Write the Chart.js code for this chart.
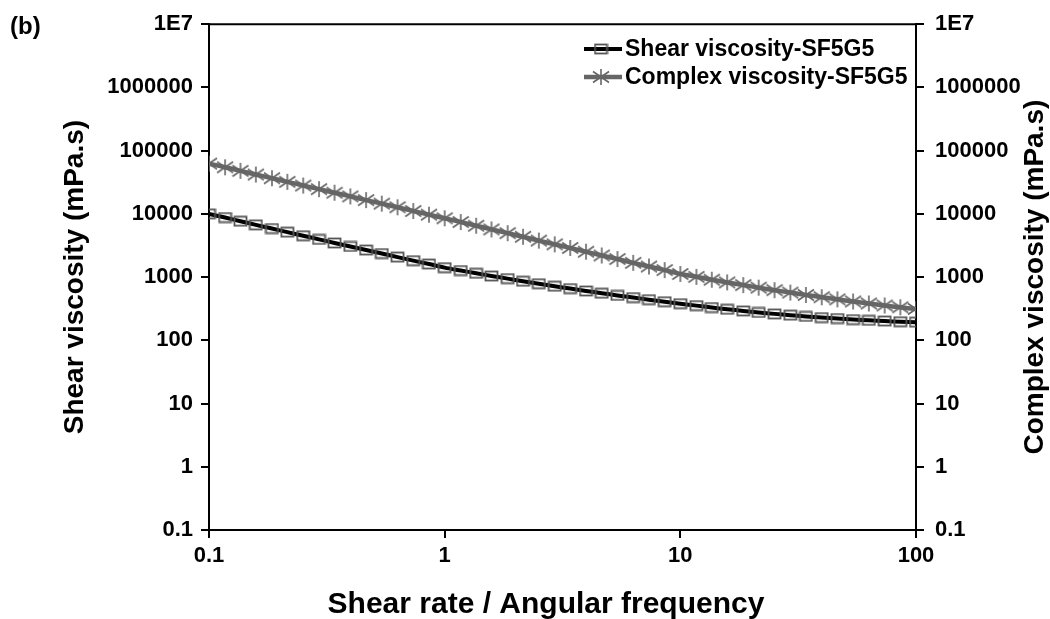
<!DOCTYPE html>
<html>
<head>
<meta charset="utf-8">
<script src="https://cdn.jsdelivr.net/npm/chart.js@4.4.1/dist/chart.umd.min.js"></script>
<style>
  html, body { margin: 0; padding: 0; background: #fff; }
  #wrap { position: relative; width: 1050px; height: 619px; }
</style>
</head>
<body>
<div id="wrap"><canvas id="c" width="1050" height="619"></canvas></div>
<script>
// ---------- data ----------
const shearRate = [0.1, 0.117, 0.136, 0.158, 0.185, 0.215, 0.251, 0.293, 0.341, 0.398, 0.464, 0.541, 0.631, 0.736, 0.858,
  1, 1.17, 1.36, 1.58, 1.85, 2.15, 2.51, 2.93, 3.41, 3.98, 4.64, 5.41, 6.31, 7.36, 8.58,
  10, 11.7, 13.6, 15.8, 18.5, 21.5, 25.1, 29.3, 34.1, 39.8, 46.4, 54.1, 63.1, 73.6, 85.8, 100];
const shearViscosity = [10000, 8750, 7660, 6700, 5860, 5140, 4510, 3950, 3470, 3050, 2680, 2360, 2070, 1820, 1610,
  1410, 1270, 1150, 1040, 946, 861, 785, 718, 658, 604, 556, 513, 474, 440, 408,
  380, 354, 330, 310, 292, 276, 262, 250, 239, 229, 221, 213, 207, 202, 197, 194];
const complexViscosity = [62400, 54600, 47900, 41900, 36600, 32100, 28100, 24600, 21600, 18900, 16500, 14500, 12700, 11100, 9720,
  8510, 7430, 6500, 5680, 4950, 4340, 3780, 3300, 2890, 2520, 2200, 1930, 1680, 1470, 1290,
  1120, 1010, 910, 824, 748, 681, 621, 569, 522, 481, 445, 412, 383, 356, 333, 313];
const seriesNames = ['Shear viscosity-SF5G5', 'Complex viscosity-SF5G5'];
const xTickValues = [0.1, 1, 10, 100];
const xTickLabels = ['0.1', '1', '10', '100'];
const yTickValues = [0.1, 1, 10, 100, 1000, 10000, 100000, 1000000, 10000000];
const yTickLabels = ['0.1', '1', '10', '100', '1000', '10000', '100000', '1000000', '1E7'];
const xTitle = 'Shear rate / Angular frequency';
const yTitle = 'Shear viscosity (mPa.s)';
const y2Title = 'Complex viscosity (mPa.s)';
const panelLabel = '(b)';

// ---------- styles ----------
const FONT = '"Liberation Sans", Arial, Helvetica, sans-serif';
const GREY = '#666666';

function makeSquare() {
  const c = document.createElement('canvas');
  c.width = 15; c.height = 12;
  const g = c.getContext('2d');
  g.strokeStyle = '#555';
  g.lineWidth = 1.8;
  g.strokeRect(1.5, 1.5, 12, 9);
  return c;
}
function makeStar() {
  const c = document.createElement('canvas');
  c.width = 18; c.height = 18;
  const g = c.getContext('2d');
  g.strokeStyle = GREY;
  g.lineWidth = 1.6;
  g.beginPath();
  g.moveTo(9, 1); g.lineTo(9, 17);
  g.moveTo(1, 3.5); g.lineTo(17, 14.5);
  g.moveTo(1, 14.5); g.lineTo(17, 3.5);
  g.stroke();
  return c;
}
const squareImg = makeSquare();
const starImg = makeStar();

const toPoints = (xs, ys) => xs.map((x, i) => ({ x: x, y: ys[i] }));

const decorPlugin = {
  id: 'decor',
  afterDraw(chart) {
    const ctx = chart.ctx;
    const a = chart.chartArea;
    ctx.save();
    // top frame line
    ctx.strokeStyle = '#000';
    ctx.lineWidth = 2;
    ctx.beginPath();
    ctx.moveTo(a.left - 1, a.top);
    ctx.lineTo(a.right + 1, a.top);
    ctx.stroke();

    ctx.fillStyle = '#000';
    // panel label
    ctx.font = 'bold 24px ' + FONT;
    ctx.textAlign = 'left';
    ctx.textBaseline = 'alphabetic';
    ctx.fillText(panelLabel, 10, 34);

    // x title
    ctx.font = 'bold 30px ' + FONT;
    ctx.textAlign = 'center';
    ctx.fillText(xTitle, 546, 613);

    // y titles (both read bottom-to-top)
    const cy = (a.top + a.bottom) / 2;
    ctx.font = 'bold 28px ' + FONT;
    ctx.save();
    ctx.translate(83, cy);
    ctx.rotate(-Math.PI / 2);
    ctx.fillText(yTitle, 0, 0);
    ctx.restore();
    ctx.save();
    ctx.translate(1043, cy);
    ctx.rotate(-Math.PI / 2);
    ctx.fillText(y2Title, 0, 0);
    ctx.restore();

    // legend
    const ds = chart.data.datasets;
    const ys = [49, 77];
    ctx.font = 'bold 23px ' + FONT;
    ctx.textAlign = 'left';
    ctx.textBaseline = 'middle';
    ds.forEach((d, i) => {
      const y = ys[i];
      ctx.strokeStyle = d.borderColor;
      ctx.lineWidth = d.borderWidth;
      ctx.beginPath();
      ctx.moveTo(584, y);
      ctx.lineTo(622, y);
      ctx.stroke();
      const img = d.pointStyle;
      ctx.drawImage(img, 601 - img.width / 2, y - img.height / 2);
      ctx.fillStyle = '#000';
      ctx.fillText(d.label, 625, y + 1);
    });
    ctx.restore();
  }
};

const axisCommon = {
  type: 'logarithmic',
  grid: { display: true, drawOnChartArea: false, drawTicks: true, tickLength: 8, color: '#000', lineWidth: 2 },
  border: { display: true, color: '#000', width: 2 },
};

new Chart(document.getElementById('c'), {
  type: 'line',
  data: {
    datasets: [
      {
        label: seriesNames[0],
        data: toPoints(shearRate, shearViscosity),
        borderColor: '#000',
        borderWidth: 4,
        pointStyle: squareImg,
        pointRadius: 7,
        tension: 0.3,
        yAxisID: 'y',
        order: 2
      },
      {
        label: seriesNames[1],
        data: toPoints(shearRate, complexViscosity),
        borderColor: GREY,
        borderWidth: 4.5,
        pointStyle: starImg,
        pointRadius: 8,
        tension: 0.3,
        yAxisID: 'y',
        order: 1
      }
    ]
  },
  options: {
    responsive: false,
    animation: false,
    devicePixelRatio: 1,
    layout: { padding: { top: 22, left: 0, right: 0, bottom: 0 } },
    plugins: { legend: { display: false }, tooltip: { enabled: false }, title: { display: false } },
    scales: {
      x: Object.assign({}, axisCommon, {
        position: 'bottom',
        min: 0.1, max: 100,
        afterBuildTicks: s => { s.ticks = xTickValues.map(v => ({ value: v, major: true })); },
        afterFit: s => { s.height = 89; },
        ticks: {
          autoSkip: false, maxRotation: 0, padding: 5, color: '#000',
          font: { family: FONT, size: 22, weight: 'bold' },
          callback: (v, i) => xTickLabels[i]
        }
      }),
      y: Object.assign({}, axisCommon, {
        position: 'left',
        min: 0.1, max: 10000000,
        afterBuildTicks: s => { s.ticks = yTickValues.map(v => ({ value: v, major: true })); },
        afterFit: s => { s.width = 209; },
        ticks: {
          autoSkip: false, padding: 8, color: '#000',
          font: { family: FONT, size: 22, weight: 'bold' },
          callback: (v, i) => yTickLabels[i]
        }
      }),
      y2: Object.assign({}, axisCommon, {
        position: 'right',
        display: true,
        min: 0.1, max: 10000000,
        afterBuildTicks: s => { s.ticks = yTickValues.map(v => ({ value: v, major: true })); },
        afterFit: s => { s.width = 134; },
        ticks: {
          autoSkip: false, padding: 11, color: '#000',
          font: { family: FONT, size: 22, weight: 'bold' },
          callback: (v, i) => yTickLabels[i]
        }
      })
    }
  },
  plugins: [decorPlugin]
});
</script>
</body>
</html>
